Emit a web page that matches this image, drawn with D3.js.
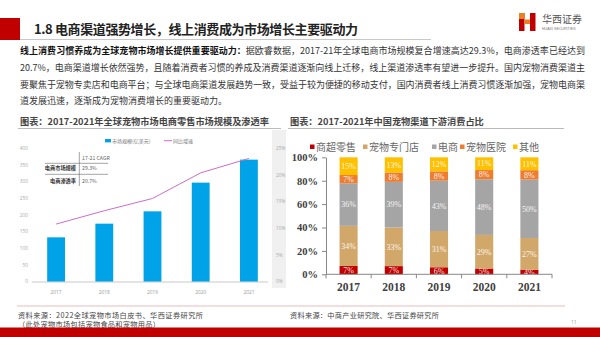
<!DOCTYPE html>
<html>
<head>
<meta charset="utf-8">
<script src="https://cdn.jsdelivr.net/npm/d3@7"></script>
<style>
  body { margin: 0; background: #fff; }
  svg { display: block; }
</style>
</head>
<body>
<svg width="600" height="337"></svg>
<script>
// ---- data ----
var years = ["2017", "2018", "2019", "2020", "2021"];
var marketSize = [133, 174, 211, 297, 366];        // 亿美元
var penetration = [10.8, 13.3, 15.6, 20.4, 23.1];  // %
var leftTicks = [0, 50, 100, 150, 200, 250, 300, 350, 400];
var rightTicks = [0, 5, 10, 15, 20, 25];

var channels = ["商超零售", "宠物专门店", "电商", "宠物医院", "其他"];
var superRetail = [7, 7, 6, 5, 4];
var petStore = [34, 33, 31, 29, 27];
var ecommerce = [36, 39, 43, 48, 50];
var petHospital = [7, 8, 8, 8, 8];
var others = [15, 13, 12, 11, 11];
var shareTicks = [0, 20, 40, 60, 80, 100];

var channelColors = ["#c00000", "#d2a86a", "#a5a5a5", "#ed7d31", "#ffc000"];

var CJK = "'Noto Sans CJK SC', 'Noto Sans', sans-serif";
var SERIF = "'Liberation Serif', 'DejaVu Serif', serif";

var svg = d3.select("svg");

// fit a text element to a target width by letter-spacing
function fitWidth(sel, target) {
    var node = sel.node();
    var w = node.getComputedTextLength();
    var n = node.textContent.length;
    if (n > 1) sel.attr("letter-spacing", (target - w) / (n - 1));
}

// ****************** page header ******************
svg.append("rect").attr("x", 0).attr("y", 18).attr("width", 20).attr("height", 22).attr("fill", "#c00000");
svg.append("line").attr("x1", 20).attr("x2", 431).attr("y1", 39.5).attr("y2", 39.5)
    .attr("stroke", "#c8c8c8").attr("stroke-width", 1.2);
var title = svg.append("text").attr("x", 34).attr("y", 34)
    .attr("font-family", CJK).attr("font-weight", "bold").attr("font-size", 13)
    .attr("fill", "#222").text("1.8 电商渠道强势增长，线上消费成为市场增长主要驱动力");
fitWidth(title, 324);

// logo
svg.append("rect").attr("x", 519).attr("y", 13).attr("width", 5.5).attr("height", 18).attr("fill", "#c00000");
svg.append("rect").attr("x", 530).attr("y", 13).attr("width", 5.5).attr("height", 18).attr("fill", "#c00000");
svg.append("rect").attr("x", 524.5).attr("y", 19.5).attr("width", 5.5).attr("height", 4.5).attr("fill", "#e8821e");
svg.append("rect").attr("x", 519).attr("y", 13).attr("width", 5.5).attr("height", 6).attr("fill", "#e8821e");
svg.append("text").attr("x", 542).attr("y", 23).attr("font-family", CJK).attr("font-size", 10)
    .attr("fill", "#555").text("华西证券");
svg.append("text").attr("x", 542).attr("y", 30).attr("font-family", "'Liberation Sans', sans-serif")
    .attr("font-size", 3.6).attr("fill", "#777").text("HUAXI SECURITIES");

// ****************** body paragraph ******************
var bodyLines = [
    ["线上消费习惯养成为全球宠物市场增长提供重要驱动力：", "据欧睿数据，2017-21年全球电商市场规模复合增速高达29.3%，电商渗透率已经达到"],
    ["", "20.7%，电商渠道增长依然强势，且随着消费者习惯的养成及消费渠道逐渐向线上迁移，线上渠道渗透率有望进一步提升。国内宠物消费渠道主"],
    ["", "要聚焦于宠物专卖店和电商平台；与全球电商渠道发展趋势一致，受益于较为便捷的移动支付，国内消费者线上消费习惯逐渐加强，宠物电商渠"],
    ["", "道发展迅速，逐渐成为宠物消费增长的重要驱动力。"]
];
bodyLines.forEach(function (l, i) {
    var t = svg.append("text").attr("x", 20).attr("y", 54 + i * 16.8)
        .attr("font-family", CJK).attr("font-size", 9).attr("fill", "#333");
    if (l[0]) t.append("tspan").attr("font-weight", "bold").attr("fill", "#111").text(l[0]);
    t.append("tspan").text(l[1]);
    if (i < 3) fitWidth(t, 565);
});

// ****************** chart titles ******************
function chartTitle(x, x2, txt) {
    svg.append("text").attr("x", x).attr("y", 125)
        .attr("font-family", CJK).attr("font-weight", "bold").attr("font-size", 9.2)
        .attr("fill", "#444").text(txt);
    svg.append("line").attr("x1", x - 2).attr("x2", x2).attr("y1", 128.5).attr("y2", 128.5)
        .attr("stroke", "#aaa").attr("stroke-width", 0.8);
}
chartTitle(20, 281, "图表：2017-2021年全球宠物市场电商零售市场规模及渗透率");
chartTitle(290, 564, "图表：2017-2021年中国宠物渠道下游消费占比");

// ****************** left chart ******************
var xL = d3.scaleBand().domain(years).range([32, 273]).paddingInner(0.63).paddingOuter(0.315);
var yL = d3.scaleLinear().domain([0, 400]).range([281.7, 148.3]);
var yR = d3.scaleLinear().domain([0, 25]).range([281.7, 148.3]);

// gray strip behind right axis
svg.append("rect").attr("x", 272).attr("y", 130).attr("width", 14).attr("height", 158).attr("fill", "#f0f0f0");

var left = svg.append("g");
left.selectAll("text.yl").data(leftTicks).enter().append("text")
    .attr("x", 28).attr("y", function (d) { return yL(d) + 1.7; })
    .attr("text-anchor", "end").attr("font-family", "'Open Sans', sans-serif")
    .attr("font-size", 4.8).attr("fill", "#aaa").text(function (d) { return d; });
left.selectAll("text.yr").data(rightTicks).enter().append("text")
    .attr("x", 276).attr("y", function (d) { return yR(d) + 1.7; })
    .attr("font-family", "'Open Sans', sans-serif")
    .attr("font-size", 4.8).attr("fill", "#aaa").text(function (d) { return d + "%"; });

left.selectAll("rect.bar").data(marketSize).enter().append("rect")
    .attr("x", function (d, i) { return xL(years[i]); })
    .attr("y", function (d) { return yL(d); })
    .attr("width", xL.bandwidth())
    .attr("height", function (d) { return yL(0) - yL(d); })
    .attr("fill", "#00a2e8");

left.append("line").attr("x1", 32).attr("x2", 268).attr("y1", 282).attr("y2", 282)
    .attr("stroke", "#bbb").attr("stroke-width", 0.8);

var line = d3.line()
    .x(function (d, i) { return xL(years[i]) + xL.bandwidth() / 2; })
    .y(function (d) { return yR(d); });
left.append("path").datum(penetration).attr("d", line)
    .attr("fill", "none").attr("stroke", "#cc6fc4").attr("stroke-width", 1);

left.selectAll("text.xl").data(years).enter().append("text")
    .attr("x", function (d) { return xL(d) + xL.bandwidth() / 2; }).attr("y", 294)
    .attr("text-anchor", "middle").attr("font-family", "'Open Sans', sans-serif")
    .attr("font-size", 4.8).attr("fill", "#999").text(function (d) { return d; });

// legend
left.append("rect").attr("x", 105).attr("y", 139).attr("width", 6).attr("height", 3.4).attr("fill", "#00a2e8");
left.append("text").attr("x", 112).attr("y", 142.5).attr("font-family", CJK).attr("font-size", 5)
    .attr("fill", "#777").text("市场规模(亿美元)");
left.append("line").attr("x1", 164).attr("x2", 172).attr("y1", 140.7).attr("y2", 140.7)
    .attr("stroke", "#cc6fc4").attr("stroke-width", 1);
left.append("text").attr("x", 173).attr("y", 142.5).attr("font-family", CJK).attr("font-size", 5)
    .attr("fill", "#777").text("同比增速");

// CAGR table
var tbl = left.append("g").attr("font-family", CJK).attr("font-size", 5.2);
tbl.append("line").attr("x1", 79.3).attr("x2", 79.3).attr("y1", 152).attr("y2", 186).attr("stroke", "#666").attr("stroke-width", 0.6);
tbl.append("line").attr("x1", 45).attr("x2", 108).attr("y1", 163.3).attr("y2", 163.3).attr("stroke", "#666").attr("stroke-width", 0.6);
tbl.append("line").attr("x1", 45).attr("x2", 108).attr("y1", 174.3).attr("y2", 174.3).attr("stroke", "#666").attr("stroke-width", 0.6);
tbl.append("text").attr("x", 82).attr("y", 159.5).attr("fill", "#666").text("17-21 CAGR");
tbl.append("text").attr("x", 76).attr("y", 170).attr("text-anchor", "end").attr("font-weight", "bold").attr("fill", "#333").text("电商市场规模");
tbl.append("text").attr("x", 82).attr("y", 170).attr("fill", "#666").text("29.3%");
tbl.append("text").attr("x", 76).attr("y", 182.5).attr("text-anchor", "end").attr("font-weight", "bold").attr("fill", "#333").text("电商渗透率");
tbl.append("text").attr("x", 82).attr("y", 182.5).attr("fill", "#666").text("20.7%");

// ****************** right chart ******************
var shareRows = years.map(function (y, i) {
    return { year: y, "商超零售": superRetail[i], "宠物专门店": petStore[i], "电商": ecommerce[i],
             "宠物医院": petHospital[i], "其他": others[i] };
});
var stack = d3.stack().keys(channels).offset(d3.stackOffsetExpand);
var series = stack(shareRows);

var xS = d3.scaleBand().domain(years).range([326, 552]).paddingInner(0.6).paddingOuter(0.3);
var yS = d3.scaleLinear().domain([0, 1]).range([274.3, 157.3]);

var right = svg.append("g");
var groups = right.selectAll("g.series").data(series).enter().append("g")
    .attr("fill", function (d, i) { return channelColors[i]; });
groups.selectAll("rect").data(function (d) { return d; }).enter().append("rect")
    .attr("x", function (d) { return xS(d.data.year); })
    .attr("y", function (d) { return yS(d[1]); })
    .attr("width", xS.bandwidth())
    .attr("height", function (d) { return yS(d[0]) - yS(d[1]); });
groups.each(function (s) {
    d3.select(this).selectAll("text").data(s).enter().append("text")
        .attr("x", function (d) { return xS(d.data.year) + xS.bandwidth() / 2; })
        .attr("y", function (d) { return (yS(d[0]) + yS(d[1])) / 2 + 2.8; })
        .attr("text-anchor", "middle").attr("font-family", SERIF).attr("font-size", 8)
        .attr("fill", "#fff").attr("fill-opacity", 0.92)
        .text(function (d) { return d.data[s.key] + "%"; });
});

// axes
var yAxis = d3.axisLeft(d3.scaleLinear().domain([0, 100]).range([274.3, 157.3]))
    .tickValues(shareTicks).tickSize(4).tickSizeOuter(0)
    .tickFormat(function (d) { return d + "%"; });
var gy = right.append("g").attr("transform", "translate(326,0)").call(yAxis);
gy.select(".domain").attr("stroke", "#888");
gy.selectAll(".tick line").attr("stroke", "#888");
gy.selectAll(".tick text").attr("x", -8).attr("font-family", SERIF).attr("font-weight", "bold")
    .attr("font-size", 10.5).attr("fill", "#404040");

right.append("line").attr("x1", 326).attr("x2", 552).attr("y1", 274.3).attr("y2", 274.3)
    .attr("stroke", "#888").attr("stroke-width", 1);
d3.range(6).forEach(function (k) {
    var x = 326 + k * xS.step();
    right.append("line").attr("x1", x).attr("x2", x).attr("y1", 274.3).attr("y2", 278.3)
        .attr("stroke", "#888");
});
right.selectAll("text.xs").data(years).enter().append("text")
    .attr("x", function (d) { return xS(d) + xS.bandwidth() / 2; }).attr("y", 291)
    .attr("text-anchor", "middle").attr("font-family", SERIF).attr("font-weight", "bold")
    .attr("font-size", 11.5).attr("fill", "#404040").text(function (d) { return d; });

// legend
var legX = [310, 363, 432, 460, 513];
channels.forEach(function (c, i) {
    right.append("rect").attr("x", legX[i]).attr("y", 144.5).attr("width", 4.5).attr("height", 4.5)
        .attr("fill", channelColors[i]);
    right.append("text").attr("x", legX[i] + 6).attr("y", 150.5).attr("font-family", CJK)
        .attr("font-size", 10).attr("fill", "#666").text(c);
});

// ****************** footer ******************
svg.append("line").attr("x1", 17).attr("x2", 565).attr("y1", 306).attr("y2", 306)
    .attr("stroke", "#e2a9a9").attr("stroke-width", 0.8);
var s1 = svg.append("text").attr("x", 18).attr("y", 318).attr("font-family", CJK).attr("font-size", 7.2)
    .attr("fill", "#444").text("资料来源：2022全球宠物市场白皮书、华西证券研究所");
fitWidth(s1, 185);
var s2 = svg.append("text").attr("x", 18).attr("y", 326.5).attr("font-family", CJK).attr("font-size", 7.2)
    .attr("fill", "#444").text("（此处宠物市场包括宠物食品和宠物用品）");
fitWidth(s2, 142);
var s3 = svg.append("text").attr("x", 290).attr("y", 318).attr("font-family", CJK).attr("font-size", 7.2)
    .attr("fill", "#444").text("资料来源：中商产业研究院、华西证券研究所");
fitWidth(s3, 149);
svg.append("rect").attr("x", 0).attr("y", 327.5).attr("width", 600).attr("height", 9.5).attr("fill", "#c00000");
svg.append("text").attr("x", 571).attr("y", 324).attr("font-family", "'Open Sans', sans-serif")
    .attr("font-size", 5).attr("fill", "#999").text("11");
</script>
</body>
</html>
